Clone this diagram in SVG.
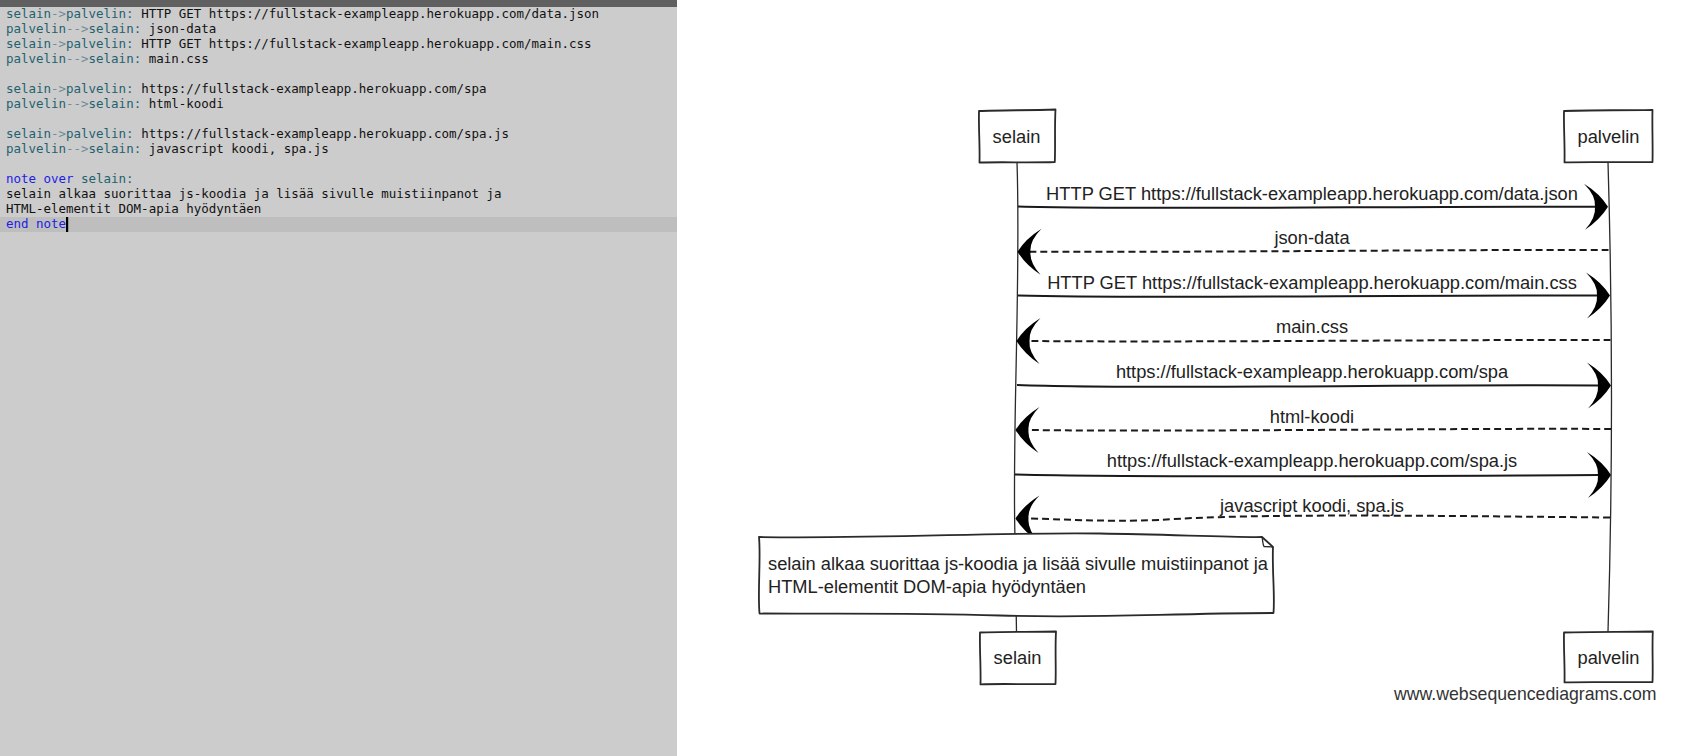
<svg xmlns="http://www.w3.org/2000/svg" xmlns:xlink="http://www.w3.org/1999/xlink" width="1683" height="756" viewBox="0 0 1683 756">
<style>
.code{font-family:"DejaVu Sans Mono","Liberation Mono",monospace;font-size:12.48px;fill:#111;white-space:pre}
.nm{fill:#23616f}
.op{fill:#6f8d98}
.kw{fill:#2121e6}
.lbl{font-family:"Liberation Sans",Arial,sans-serif;font-size:18.3px;fill:#222;text-anchor:middle}
.ntxt{font-family:"Liberation Sans",Arial,sans-serif;font-size:18.3px;fill:#222}
.box{fill:#fff;stroke:#2a2a2a;stroke-width:1.8;stroke-linejoin:round}
.life{fill:none;stroke:#2a2a2a;stroke-width:1.3}
.msg{fill:none;stroke:#1a1a1a;stroke-width:2}
.ret{fill:none;stroke:#1a1a1a;stroke-width:2;stroke-dasharray:7 4}
.ah{fill:#000}
.wm{font-family:"Liberation Sans",Arial,sans-serif;font-size:17.7px;fill:#333}
</style>
<defs>
<path id="ahR" class="ah" d="M0,0 Q-8,-13 -24,-23 Q-12,-11 -13,0 Q-12,11 -23,23 Q-8,13 0,0 Z"/>
<path id="ahL" class="ah" d="M0,0 Q8,-13 24,-23 Q12,-11 13,0 Q12,11 23,23 Q8,13 0,0 Z"/>
</defs>
<rect x="0" y="0" width="1683" height="756" fill="#fff"/>
<g id="editor">
<rect x="0" y="0" width="677" height="756" fill="#cccccc"/>
<rect x="0" y="0" width="677" height="7" fill="#606060"/>
<rect x="0" y="217" width="677" height="15" fill="#bebebe"/>
<text class="code" x="6" y="18.3"><tspan class="nm">selain</tspan><tspan class="op">-&gt;</tspan><tspan class="nm">palvelin:</tspan> HTTP GET https://fullstack-exampleapp.herokuapp.com/data.json</text>
<text class="code" x="6" y="33.3"><tspan class="nm">palvelin</tspan><tspan class="op">--&gt;</tspan><tspan class="nm">selain:</tspan> json-data</text>
<text class="code" x="6" y="48.3"><tspan class="nm">selain</tspan><tspan class="op">-&gt;</tspan><tspan class="nm">palvelin:</tspan> HTTP GET https://fullstack-exampleapp.herokuapp.com/main.css</text>
<text class="code" x="6" y="63.3"><tspan class="nm">palvelin</tspan><tspan class="op">--&gt;</tspan><tspan class="nm">selain:</tspan> main.css</text>
<text class="code" x="6" y="93.3"><tspan class="nm">selain</tspan><tspan class="op">-&gt;</tspan><tspan class="nm">palvelin:</tspan> https://fullstack-exampleapp.herokuapp.com/spa</text>
<text class="code" x="6" y="108.3"><tspan class="nm">palvelin</tspan><tspan class="op">--&gt;</tspan><tspan class="nm">selain:</tspan> html-koodi</text>
<text class="code" x="6" y="138.3"><tspan class="nm">selain</tspan><tspan class="op">-&gt;</tspan><tspan class="nm">palvelin:</tspan> https://fullstack-exampleapp.herokuapp.com/spa.js</text>
<text class="code" x="6" y="153.3"><tspan class="nm">palvelin</tspan><tspan class="op">--&gt;</tspan><tspan class="nm">selain:</tspan> javascript koodi, spa.js</text>
<text class="code" x="6" y="183.3"><tspan class="kw">note over</tspan> <tspan class="nm">selain:</tspan></text>
<text class="code" x="6" y="198.3">selain alkaa suorittaa js-koodia ja lisää sivulle muistiinpanot ja</text>
<text class="code" x="6" y="213.3">HTML-elementit DOM-apia hyödyntäen</text>
<text class="code" x="6" y="228.3"><tspan class="kw">end note</tspan></text>
<rect x="66" y="217" width="2.2" height="15" fill="#000"/>
</g>
<g id="lifelines">
<path class="life" d="M1017,162 C1021,280 1012,430 1015,538 L1016.5,632"/>
<path class="life" d="M1608,162 Q1615,400 1608,632"/>
</g>
<g id="selain-top">
<path class="box" d="M979,111 C1000,110 1030,110.5 1055.5,109.5 C1054.5,128 1055.5,146 1054.8,162 C1030,162.8 1000,161.8 979.5,162.5 C980,145 978.5,128 979,111 Z"/>
<text class="lbl" x="1016.5" y="143">selain</text>
</g>
<g id="palvelin-top">
<path class="box" d="M1564,111 C1590,110 1620,110.5 1652.5,109.8 C1652,128 1653,146 1652.5,162 C1620,162.6 1590,161.6 1564.5,162.4 C1565,145 1563.6,128 1564,111 Z"/>
<text class="lbl" x="1608.5" y="143">palvelin</text>
</g>
<g id="connectors">
<path class="msg" d="M1018,206.5 C1150,210 1400,206 1596,206.8"/>
<use xlink:href="#ahR" x="1608" y="206.8"/>
<text class="lbl" x="1312" y="200">HTTP GET https://fullstack-exampleapp.herokuapp.com/data.json</text>

<path class="ret" d="M1608.5,250 C1450,249.5 1200,252.5 1030,251.7"/>
<use xlink:href="#ahL" x="1017.5" y="251.7"/>
<text class="lbl" x="1312" y="244">json-data</text>

<path class="msg" d="M1018,295.5 C1150,299 1400,294.5 1598,295.5"/>
<use xlink:href="#ahR" x="1610" y="295.5"/>
<text class="lbl" x="1312" y="289">HTTP GET https://fullstack-exampleapp.herokuapp.com/main.css</text>

<path class="ret" d="M1610.5,340 C1450,339.5 1200,342.5 1030,341"/>
<use xlink:href="#ahL" x="1016.5" y="341"/>
<text class="lbl" x="1312" y="333">main.css</text>

<path class="msg" d="M1017,385 C1150,390 1400,384 1599,385.5"/>
<use xlink:href="#ahR" x="1611" y="385.5"/>
<text class="lbl" x="1312" y="378">https://fullstack-exampleapp.herokuapp.com/spa</text>

<path class="ret" d="M1611,429 C1450,428 1200,432 1028,430"/>
<use xlink:href="#ahL" x="1015.5" y="430"/>
<text class="lbl" x="1312" y="423">html-koodi</text>

<path class="msg" d="M1015,474.5 C1150,478 1400,476 1599,475"/>
<use xlink:href="#ahR" x="1611" y="475"/>
<text class="lbl" x="1312" y="467">https://fullstack-exampleapp.herokuapp.com/spa.js</text>

<path class="ret" d="M1610,517.5 C1450,516 1250,513 1160,520 C1100,522 1060,519 1028,518.5"/>
<use xlink:href="#ahL" x="1015.5" y="518.5"/>
<text class="lbl" x="1312" y="512">javascript koodi, spa.js</text>
</g>
<g id="note">
<path class="box" d="M759,537 C880,539 1000,532 1100,533.5 C1170,534.5 1230,537.5 1262,537 L1273,547 C1272,570 1275,595 1273.5,613 C1160,613.5 1100,618.5 1000,615.5 C900,612.5 820,614 759.5,613.5 C757.5,590 761,560 759,537 Z"/>
<path fill="none" stroke="#2a2a2a" stroke-width="1.3" d="M1262,537 C1263,541 1262.5,544 1264,546.5 L1273,547"/>
<text class="ntxt" x="768" y="570">selain alkaa suorittaa js-koodia ja lisää sivulle muistiinpanot ja</text>
<text class="ntxt" x="768" y="593">HTML-elementit DOM-apia hyödyntäen</text>
</g>
<g id="selain-bottom">
<path class="box" d="M980,632.5 C1000,631.5 1030,632 1056,631.5 C1055,650 1056.2,668 1055.5,684 C1030,684.6 1000,683.4 980.5,684.4 C981,667 979.5,650 980,632.5 Z"/>
<text class="lbl" x="1017.5" y="664">selain</text>
</g>
<g id="palvelin-bottom">
<path class="box" d="M1564,632.5 C1590,631.5 1620,632 1652.8,631.5 C1652,650 1653.2,667 1652.5,682 C1620,682.6 1590,681.5 1564.5,682.4 C1565,666 1563.6,650 1564,632.5 Z"/>
<text class="lbl" x="1608.5" y="664">palvelin</text>
</g>
<text class="wm" x="1394" y="700">www.websequencediagrams.com</text>
</svg>
